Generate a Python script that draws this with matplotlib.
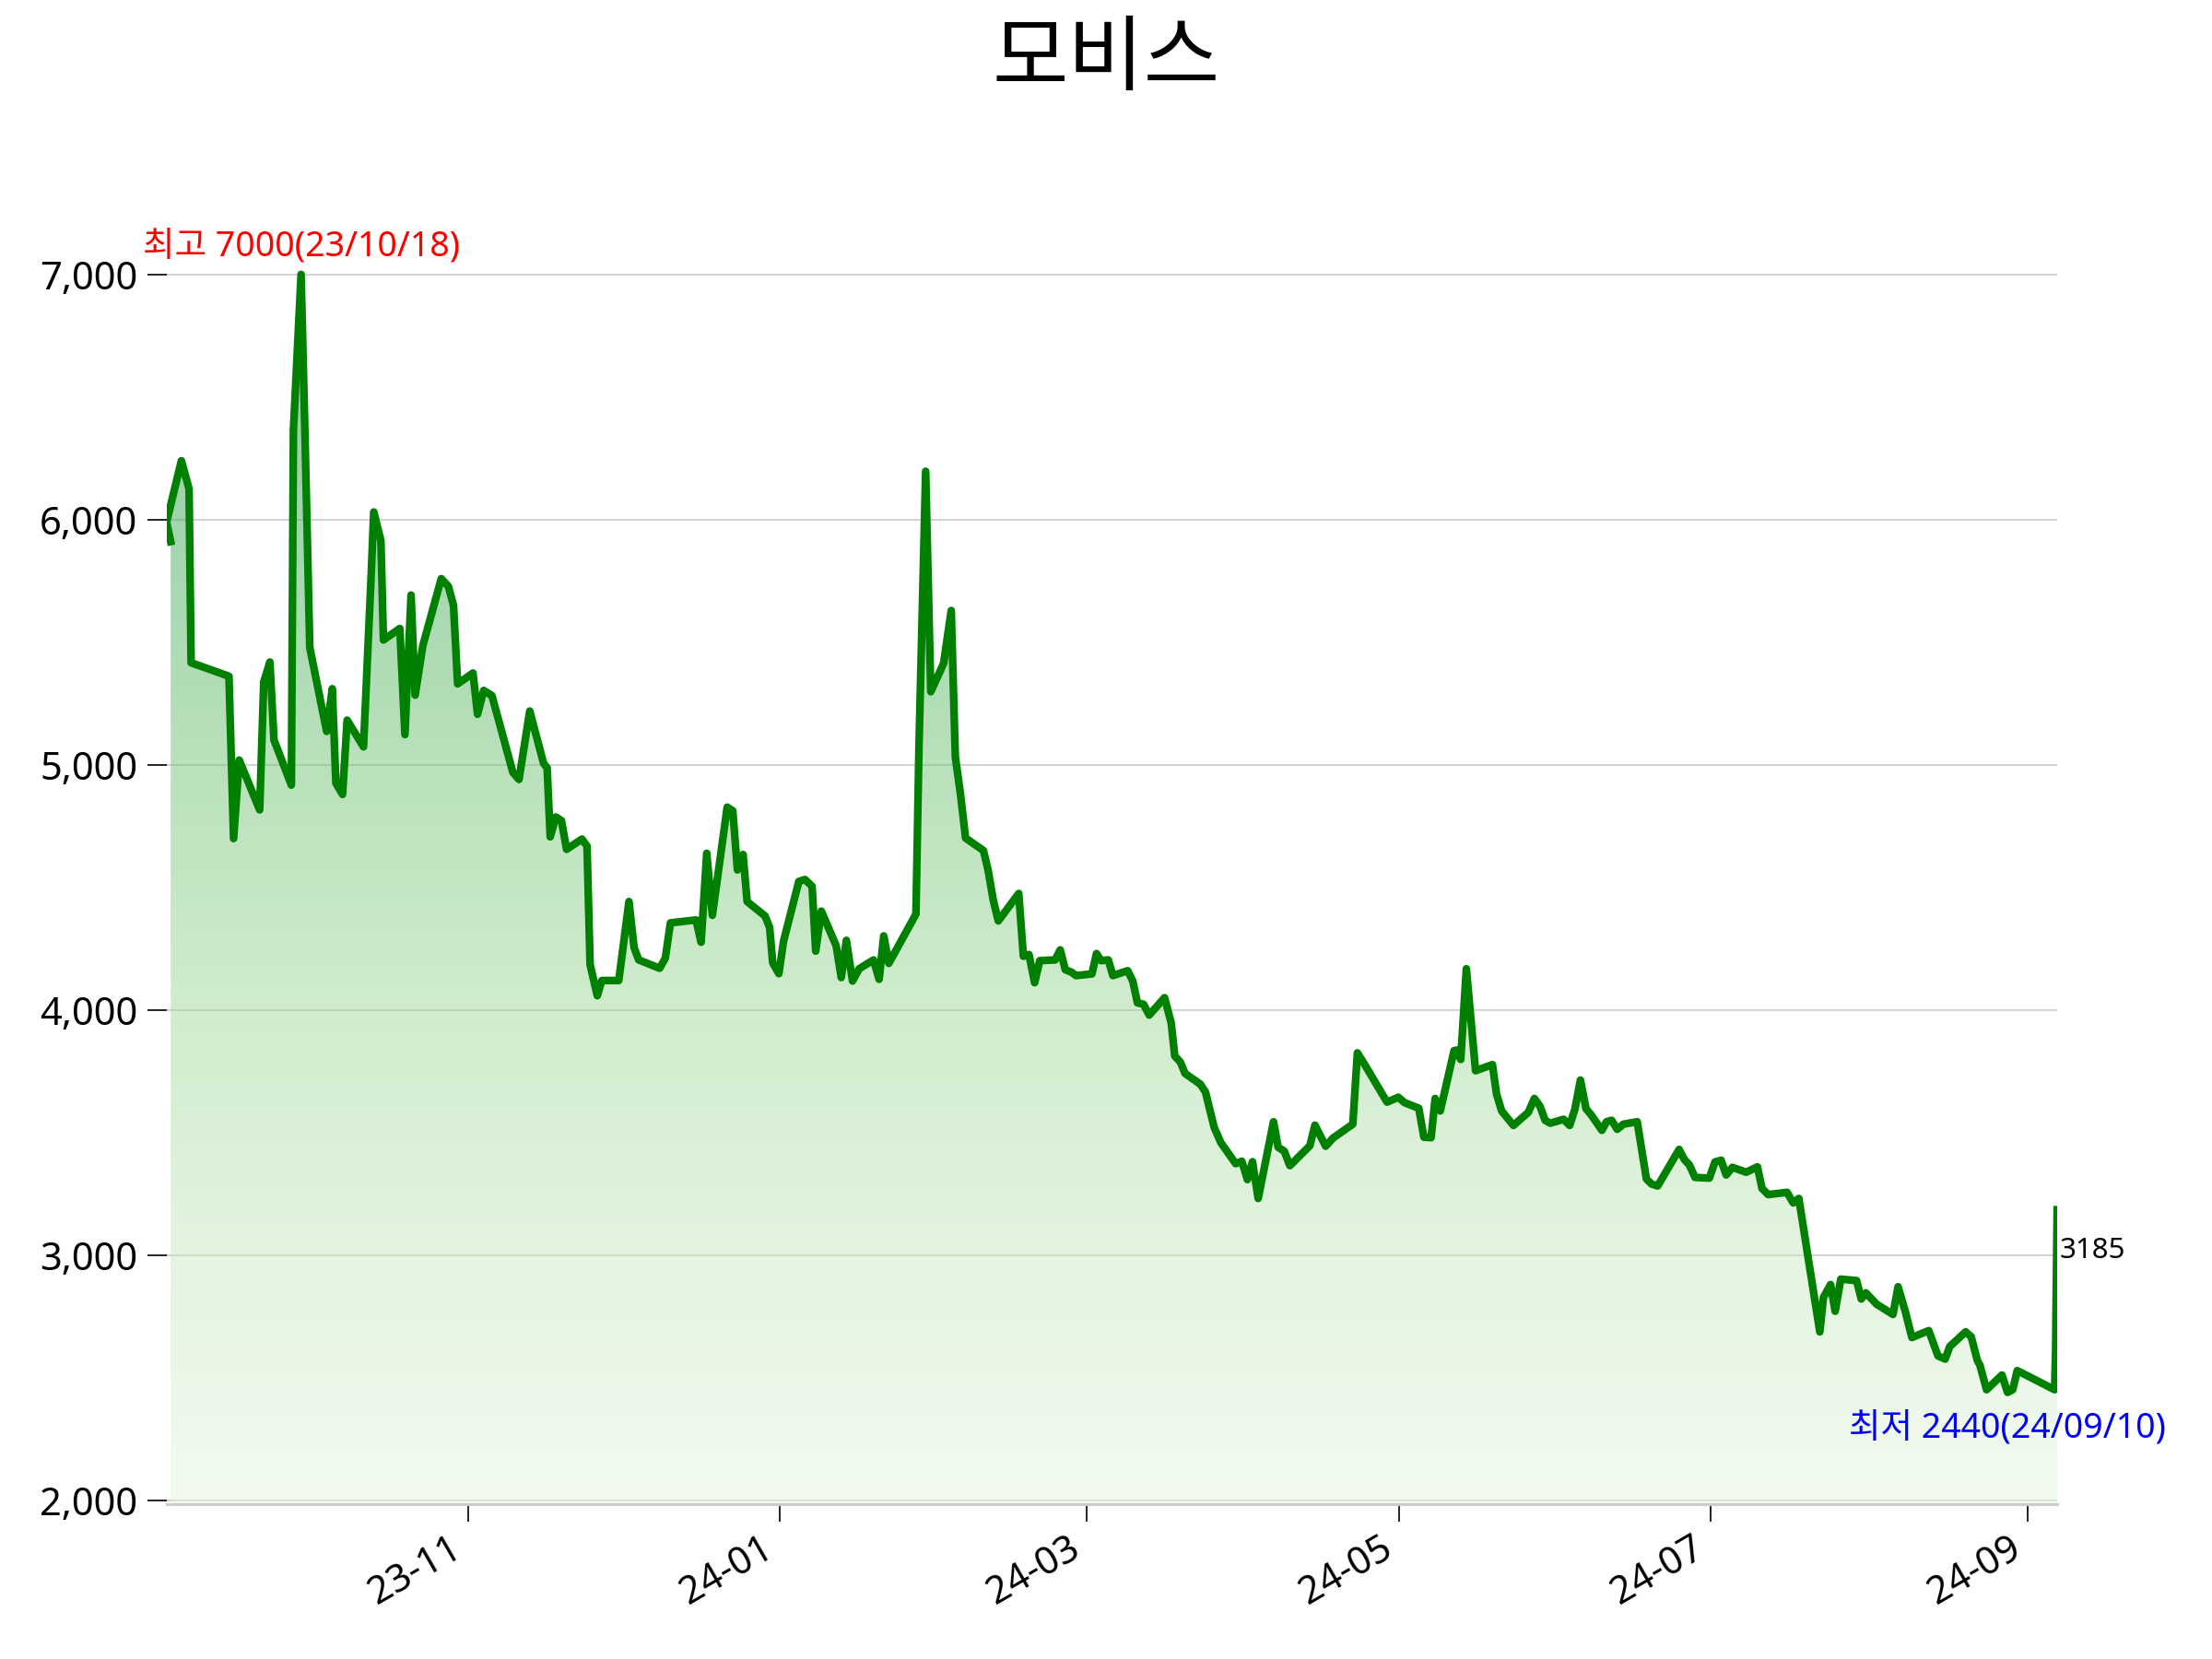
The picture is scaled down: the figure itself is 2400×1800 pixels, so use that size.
import numpy as np
import pandas as pd
import matplotlib
matplotlib.use('Agg')
import matplotlib.pyplot as plt
import matplotlib.dates as mdates
from matplotlib.colors import Normalize
from matplotlib.ticker import FuncFormatter

plt.rcParams['font.family'] = ['Noto Sans', 'Noto Sans CJK KR', 'DejaVu Sans']

title = '모비스'
start_date = '2023-09-03'
# days after start_date
day_offsets = [
    0.9, 0.1, 3.0, 4.5, 4.9, 12.3, 13.2, 14.3, 18.3, 19.1, 20.3, 21.1, 24.5, 24.9, 26.4, 27.1,
    28.1, 31.4, 32.5, 33.2, 34.5, 35.4, 38.6, 40.1, 40.6, 42.0, 42.5, 45.7, 46.7, 47.9, 48.7,
    50.2, 53.8, 55.2, 56.2, 57.0, 60.0, 60.9, 62.1, 63.7, 67.8, 69.0, 71.1, 73.8, 74.5, 75.1,
    76.2, 77.3, 78.3, 81.3, 82.3, 82.9, 84.3, 85.2, 88.5, 90.5, 91.5, 92.4, 96.5, 97.6, 98.6,
    103.6, 104.6, 105.7, 106.8, 109.7, 110.8, 111.7, 112.8, 113.6, 117.1, 118.0, 118.6, 119.8,
    120.7, 123.7, 124.9, 126.3, 127.0, 128.1, 131.0, 132.0, 133.0, 134.2, 135.5, 138.3, 139.4,
    140.3, 141.3, 146.6, 147.2, 148.5, 149.5, 152.0, 153.5, 154.3, 155.3, 156.3, 159.8, 160.7,
    161.7, 162.7, 166.7, 167.6, 168.7, 169.8, 170.8, 173.8, 174.8, 175.8, 177.0, 177.9, 181.0,
    181.9, 182.8, 184.2, 185.1, 188.0, 189.0, 189.9, 191.1, 192.2, 195.2, 196.5, 197.2, 198.3,
    199.2, 202.2, 203.2, 204.9, 206.2, 209.1, 210.3, 211.4, 212.4, 213.5, 216.5, 217.4, 218.6,
    219.7, 223.6, 224.6, 226.7, 228.1, 232.0, 232.9, 234.3, 238.7, 240.9, 242.1, 244.9, 245.9,
    247.3, 248.1, 249.1, 251.8, 252.4, 253.1, 254.2, 256.0, 259.3, 260.1, 261.1, 263.4, 266.3,
    267.5, 268.6, 269.6, 270.6, 273.2, 274.4, 275.4, 276.5, 277.6, 278.6, 280.7, 281.6, 282.6,
    283.7, 284.9, 287.6, 289.4, 290.4, 291.6, 295.8, 296.8, 297.8, 298.9, 301.7, 302.8, 304.0,
    305.0, 306.2, 308.9, 311.1, 312.0, 313.2, 316.9, 318.1, 319.2, 323.3, 324.0, 325.4, 326.3,
    327.4, 330.5, 331.4, 332.3, 334.4, 337.6, 338.6, 340.0, 341.3, 344.6, 346.4, 347.8, 348.7,
    351.8, 352.9, 354.1, 354.6, 355.9, 358.9, 360.0, 361.0, 361.9, 369.2, 369.4, 369.7,
]
prices = [
    5910, 5990, 6240, 6125, 5416, 5361, 4699, 5019, 4816, 5338, 5419, 5101, 4917, 6366, 7000, 6400,
    5478, 5136, 5310, 4925, 4879, 5182, 5073, 5774, 6031, 5914, 5509, 5556, 5123, 5692, 5284,
    5486, 5759, 5727, 5650, 5330, 5374, 5206, 5303, 5282, 4969, 4940, 5219, 5006, 4987, 4706,
    4787, 4772, 4655, 4697, 4668, 4185, 4058, 4120, 4120, 4442, 4254, 4204, 4170, 4211, 4355,
    4367, 4276, 4639, 4386, 4827, 4812, 4571, 4634, 4442, 4383, 4336, 4192, 4148,
    4279, 4524, 4532, 4504, 4240, 4403, 4262, 4132, 4284, 4118, 4168, 4204, 4125,
    4302, 4190, 4391, 5082, 6197, 5298, 5413, 5629, 5032, 4881, 4701, 4650, 4571,
    4449, 4363, 4475, 4219, 4226, 4111, 4201, 4204, 4245, 4164, 4154, 4140, 4147,
    4230, 4201, 4204, 4140, 4160, 4117, 4029, 4023, 3979, 4050, 3947, 3812, 3787,
    3741, 3697, 3665, 3521, 3459, 3373, 3383, 3308, 3381, 3231, 3544, 3440, 3424,
    3365, 3446, 3530, 3444, 3477, 3534, 3825, 3778, 3624, 3644, 3622, 3599, 3481,
    3479, 3639, 3588, 3834, 3836, 3798, 4168, 3752, 3777, 3657, 3588, 3529, 3582,
    3639, 3607, 3550, 3538, 3554, 3529, 3594, 3714, 3597, 3572, 3509, 3544, 3550,
    3513, 3534, 3544, 3311, 3290, 3282, 3431, 3390, 3368, 3317, 3314, 3380, 3387,
    3327, 3358, 3338, 3360, 3272, 3247, 3256, 3213, 3231, 2687, 2827, 2880, 2771,
    2902, 2896, 2821, 2846, 2800, 2758, 2871, 2771, 2664, 2692, 2589, 2576, 2627,
    2687, 2667, 2570, 2551, 2451, 2511, 2440, 2451, 2529, 2451, 2610, 3185,
]
hi_date = '23/10/18'
lo_date = '24/09/10'
yticks = [2000, 3000, 4000, 5000, 6000, 7000]

dates = pd.Timestamp(start_date) + pd.to_timedelta(day_offsets, unit='D')
x = mdates.date2num(dates.to_pydatetime())
p = np.array(prices, dtype=float)

lo, hi = p.min(), p.max()
pad = (hi - lo) * 0.1
ymin, ymax = lo - pad, hi + pad

fig = plt.figure(figsize=(16, 12), dpi=150)
ax = fig.add_axes([0.0753, 0.0933, 0.930 - 0.0753, 0.902 - 0.0933])

# gradient fill under the line
fill = ax.fill_between(x, p, ymin, facecolor='none', edgecolor='none')
grad = np.linspace(ymin, ymax, 300).reshape(-1, 1)
im = ax.imshow(grad, extent=[x.min(), x.max(), ymin, ymax], origin='lower',
               aspect='auto', cmap='Greens', norm=Normalize(1000, 9000),
               alpha=0.5, zorder=1)
im.set_clip_path(fill.get_paths()[0], transform=ax.transData)

ax.plot(x, p, color='green', lw=4, zorder=3)

ax.set_xlim(x.min(), x.max())
ax.set_ylim(ymin, ymax)

ax.xaxis.set_major_locator(mdates.MonthLocator(bymonth=[1, 3, 5, 7, 9, 11]))
ax.xaxis.set_major_formatter(mdates.DateFormatter('%y-%m'))
ax.set_yticks(yticks)
ax.yaxis.set_major_formatter(FuncFormatter(lambda v, _: f'{v:,.0f}'))

ax.grid(axis='y', color='#d3d3d3', lw=1)
ax.set_axisbelow(True)
for s in ['left', 'top', 'right']:
    ax.spines[s].set_visible(False)
ax.spines['bottom'].set_color('#cccccc')
ax.spines['bottom'].set_linewidth(1.5)

ax.tick_params(axis='y', length=10, width=0.8, pad=5, labelsize=20)
ax.tick_params(axis='x', length=9, width=0.8, pad=4, labelsize=20)
plt.setp(ax.get_xticklabels(), rotation=30, ha='right')

ihi = int(np.argmax(p))
ilo = int(np.argmin(p))
ax.annotate(f'최고 {int(hi)}({hi_date})', (x[ihi], hi), xytext=(0, 9), textcoords='offset points',
            ha='center', va='baseline', color='red', fontsize=18, annotation_clip=False)
ax.annotate(f'최저 {int(lo)}({lo_date})', (x[ilo], lo), xytext=(0, -24), textcoords='offset points',
            ha='center', va='baseline', color='blue', fontsize=18, annotation_clip=False)
ax.annotate(f'{int(p[-1])}', (x[-1], p[-1]), xytext=(1, -25), textcoords='offset points',
            ha='left', va='baseline', color='black', fontsize=15, annotation_clip=False)

fig.suptitle(title, x=0.5, y=0.962, va='center', fontsize=43)

fig.savefig('out.png', dpi=150)
